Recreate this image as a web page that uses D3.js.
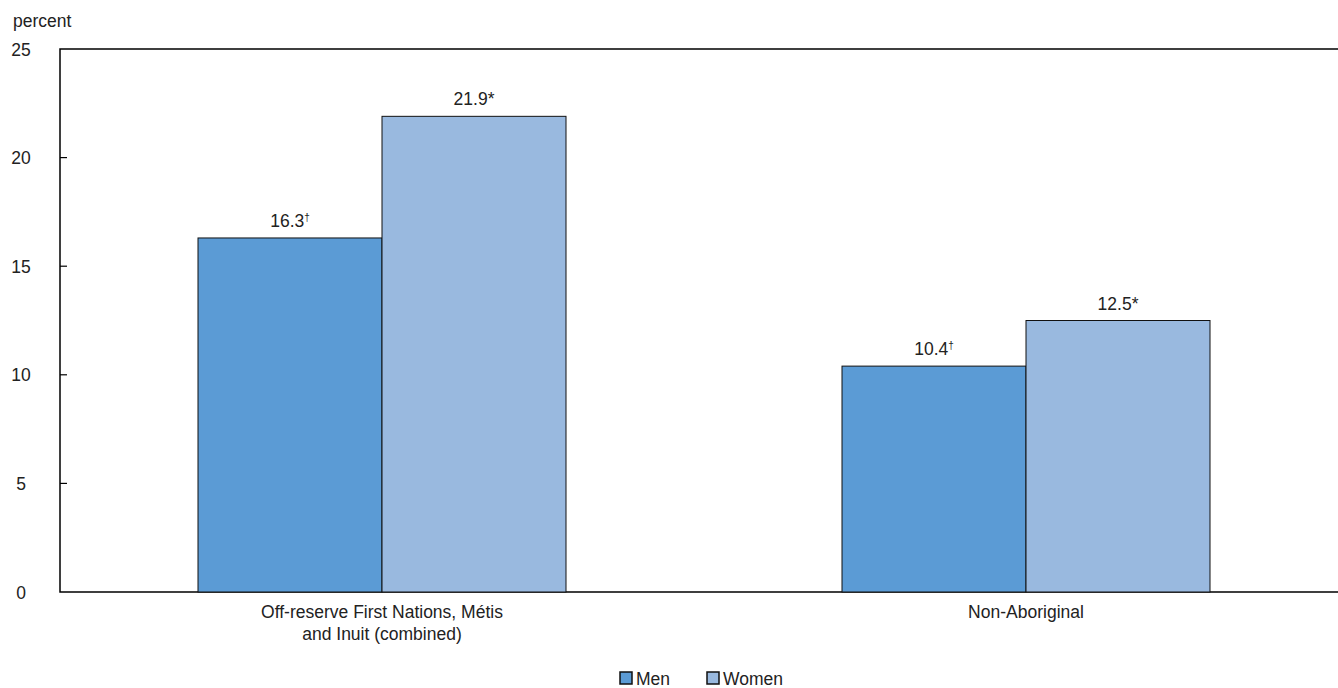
<!DOCTYPE html>
<html>
<head>
<meta charset="utf-8">
<script src="https://cdn.jsdelivr.net/npm/d3@7"></script>
<style>
  body { margin: 0; background: #fff; }
  svg text { font-family: "Liberation Sans", Arial, sans-serif; fill: #222; }
</style>
</head>
<body>
<svg id="chart" width="1338" height="688"></svg>
<script>
// data
const categories = ['Off-reserve First Nations, Métis|and Inuit (combined)', 'Non-Aboriginal'];
const seriesNames = ['Men', 'Women'];
const menValues = [16.3, 10.4];
const womenValues = [21.9, 12.5];
const menMarks = ['†', '†'];
const womenMarks = ['*', '*'];
const yTicks = [0, 5, 10, 15, 20, 25];

const colors = { Men: '#5b9bd5', Women: '#99b9df' };
const fs = 17.5;

const svg = d3.select('#chart');
const margin = { top: 49, right: -10, bottom: 96, left: 60 };
const width = +svg.attr('width');
const height = +svg.attr('height');

const x = d3.scaleBand()
  .domain(categories)
  .range([margin.left, width - margin.right])
  .paddingInner(0)
  .paddingOuter(0);
const xs = d3.scaleBand()
  .domain(seriesNames)
  .range([0, x.bandwidth()])
  .paddingInner(0)
  .paddingOuter(0.75);
const y = d3.scaleLinear()
  .domain([0, 25])
  .range([height - margin.bottom, margin.top]);

const rows = categories.map((c, i) => ({
  cat: c,
  vals: [
    { s: 'Men', v: menValues[i], mark: menMarks[i] },
    { s: 'Women', v: womenValues[i], mark: womenMarks[i] }
  ]
}));

// frame
svg.append('path')
  .attr('d', `M${width},${y(25)}H${margin.left}V${y(0)}H${width}`)
  .attr('fill', 'none')
  .attr('stroke', '#000')
  .attr('stroke-width', 1.5);

// inward ticks
svg.append('g').selectAll('line')
  .data(yTicks.filter(d => d > 0 && d < 25))
  .join('line')
  .attr('x1', margin.left)
  .attr('x2', margin.left + 7)
  .attr('y1', d => y(d))
  .attr('y2', d => y(d))
  .attr('stroke', '#000')
  .attr('stroke-width', 1.2);

// y tick labels
svg.append('g').selectAll('text')
  .data(yTicks)
  .join('text')
  .attr('x', 21)
  .attr('y', d => y(d) + 6.5)
  .attr('text-anchor', 'middle')
  .attr('font-size', fs)
  .text(d => d);

svg.append('text')
  .attr('x', 13)
  .attr('y', 27)
  .attr('font-size', fs)
  .text('percent');

// bars
const g = svg.append('g').selectAll('g')
  .data(rows)
  .join('g')
  .attr('transform', d => `translate(${x(d.cat)},0)`);

g.selectAll('rect')
  .data(d => d.vals)
  .join('rect')
  .attr('x', d => xs(d.s))
  .attr('y', d => y(d.v))
  .attr('width', xs.bandwidth())
  .attr('height', d => y(0) - y(d.v))
  .attr('fill', d => colors[d.s])
  .attr('stroke', '#111')
  .attr('stroke-width', 1);

const lab = g.selectAll('text.val')
  .data(d => d.vals)
  .join('text')
  .attr('class', 'val')
  .attr('x', d => xs(d.s) + xs.bandwidth() / 2)
  .attr('y', d => y(d.v) - 11)
  .attr('text-anchor', 'middle')
  .attr('font-size', fs);
lab.append('tspan').text(d => d.v.toFixed(1));
lab.append('tspan')
  .attr('font-size', d => d.mark === '†' ? 10 : fs)
  .attr('dy', d => d.mark === '†' ? -6 : 0)
  .text(d => d.mark);

// category labels
svg.append('g').selectAll('text')
  .data(categories)
  .join('text')
  .attr('x', d => x(d) + x.bandwidth() / 2)
  .attr('y', y(0) + 26)
  .attr('text-anchor', 'middle')
  .attr('font-size', fs)
  .each(function(d) {
    const t = d3.select(this);
    d.split('|').forEach((line, i) => {
      t.append('tspan')
        .attr('x', x(d) + x.bandwidth() / 2)
        .attr('dy', i === 0 ? 0 : 22)
        .text(line);
    });
  });

// legend
const legendX = [620, 707];
const leg = svg.append('g').selectAll('g')
  .data(seriesNames)
  .join('g')
  .attr('transform', (d, i) => `translate(${legendX[i]},672)`);
leg.append('rect')
  .attr('width', 12)
  .attr('height', 12)
  .attr('fill', d => colors[d])
  .attr('stroke', '#111')
  .attr('stroke-width', 1.5);
leg.append('text')
  .attr('x', 16)
  .attr('y', 13)
  .attr('font-size', fs)
  .text(d => d);
</script>
</body>
</html>
